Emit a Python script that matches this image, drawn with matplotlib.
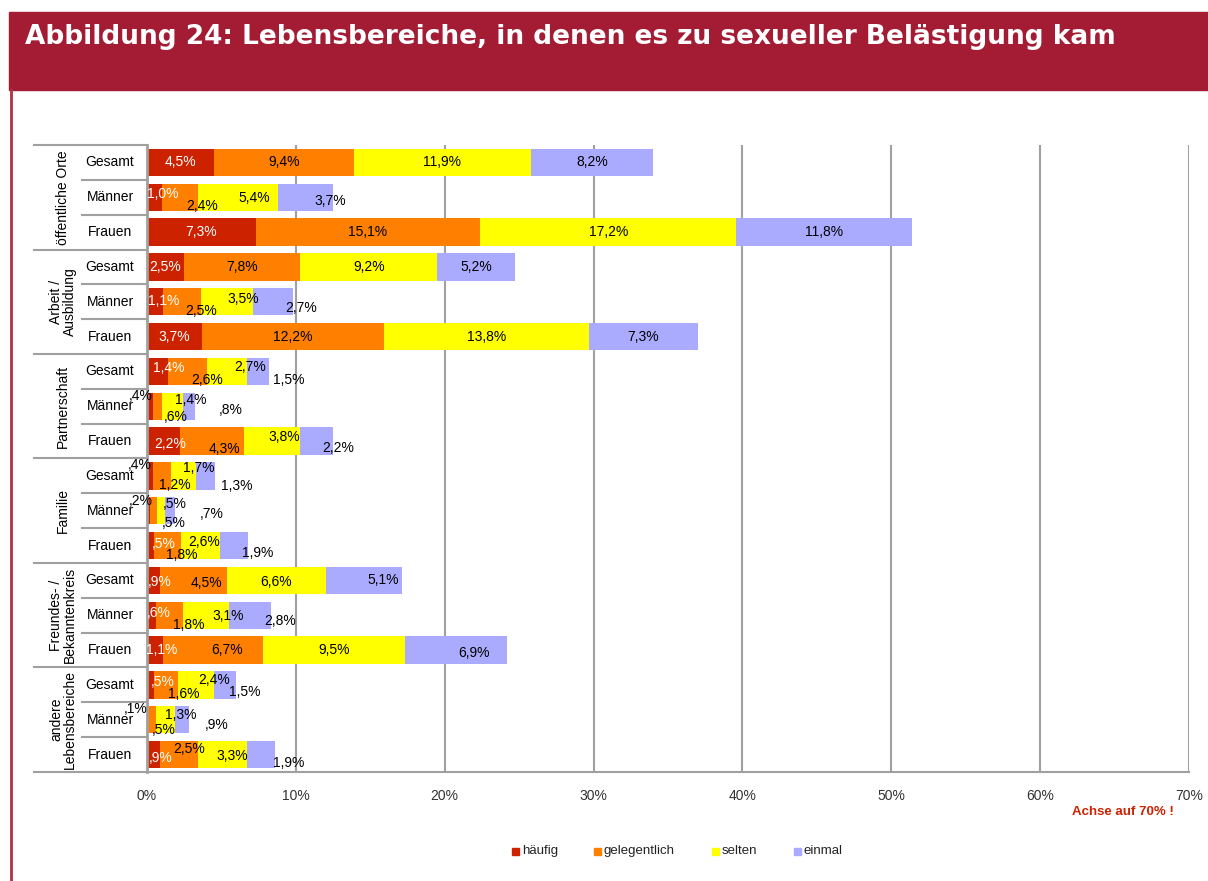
import matplotlib
matplotlib.use("Agg")
import matplotlib.pyplot as plt
from matplotlib.patches import Rectangle
from matplotlib.lines import Line2D

plt.rcParams['font.family'] = ['Liberation Sans', 'DejaVu Sans']

# data (percent)
groups = ["öffentliche Orte", "Arbeit /\nAusbildung", "Partnerschaft", "Familie",
          "Freundes- /\nBekanntenkreis", "andere\nLebensbereiche"]
subgroups = ["Gesamt", "Männer", "Frauen"]
series = ["häufig", "gelegentlich", "selten", "einmal"]

haeufig = [4.5, 1.0, 7.3, 2.5, 1.1, 3.7, 1.4, 0.4, 2.2, 0.4, 0.2, 0.5, 0.9, 0.6, 1.1, 0.5, 0.1, 0.9]
gelegentlich = [9.4, 2.4, 15.1, 7.8, 2.5, 12.2, 2.6, 0.6, 4.3, 1.2, 0.5, 1.8, 4.5, 1.8, 6.7, 1.6, 0.5, 2.5]
selten = [11.9, 5.4, 17.2, 9.2, 3.5, 13.8, 2.7, 1.4, 3.8, 1.7, 0.5, 2.6, 6.6, 3.1, 9.5, 2.4, 1.3, 3.3]
einmal = [8.2, 3.7, 11.8, 5.2, 2.7, 7.3, 1.5, 0.8, 2.2, 1.3, 0.7, 1.9, 5.1, 2.8, 6.9, 1.5, 0.9, 1.9]

xticks = [0, 10, 20, 30, 40, 50, 60, 70]

colors = ["#CC2200", "#FF7F00", "#FFFF00", "#AAAAFF"]
grid_col = "#A0A0A0"
crimson = "#A31C33"

# manual label nudges (pixels, dy positive = down), like the dragged excel labels
nudge = {
    1: [(8, -3), (22, 9), (16, 1), (25, 4)],
    4: [(9, -1), (19, 9), (17, -3), (28, 6)],
    6: [(11, -3), (20, 9), (23, -4), (31, 9)],
    7: [(-9, -10), (18, 11), (18, -6), (42, 4)],
    8: [(7, 3), (13, 8), (12, -4), (21, 7)],
    9: [(-10, -11), (13, 9), (15, -8), (31, 10)],
    10: [(-8, -10), (20, 12), (14, -7), (42, 3)],
    11: [(13, -2), (14, 9), (4, -4), (24, 7)],
    12: [(6, 2), (13, 3), (0, 2), (20, 0)],
    13: [(7, -2), (19, 10), (22, 1), (30, 6)],
    14: [(7, 0), (14, 0), (0, 0), (18, 3)],
    15: [(12, -3), (17, 9), (18, -5), (20, 7)],
    16: [(-12, -11), (12, 10), (15, -5), (35, 5)],
    17: [(7, 3), (10, -6), (10, 1), (28, 8)],
}


def fmt(v):
    s = f"{v:.1f}".replace(".", ",")
    if s.startswith("0"):
        s = s[1:]
    return s + "%"


W, H = 1208, 881
fig = plt.figure(figsize=(W / 100, H / 100), dpi=100)

# header band + left border
fig.add_artist(Rectangle((9 / W, 1 - 90 / H), 1 - 9 / W, 78 / H,
                         transform=fig.transFigure, color=crimson, zorder=0))
fig.add_artist(Line2D([10.5 / W, 10.5 / W], [0, 1 - 90 / H], transform=fig.transFigure,
                      color="#B03040", lw=2))
fig.text(25 / W, 1 - 37 / H, "Abbildung 24: Lebensbereiche, in denen es zu sexueller Belästigung kam",
         color="white", fontsize=19, fontweight="bold", family="DejaVu Sans",
         va="center", ha="left")

x0, x1, ytop, ybot = 147, 1189, 145, 772
ax = fig.add_axes([x0 / W, 1 - ybot / H, (x1 - x0) / W, (ybot - ytop) / H])

n = len(haeufig)
ypos = [i + 0.5 for i in range(n)]
data = [haeufig, gelegentlich, selten, einmal]
left = [0.0] * n
for k, vals in enumerate(data):
    ax.barh(ypos, vals, left=left, height=0.78, color=colors[k], zorder=3, label=series[k])
    for i, v in enumerate(vals):
        dx, dy = nudge.get(i, [(0, 0)] * 4)[k]
        txt_col = "black"
        if k == 0 and dx >= 0:
            txt_col = "white"
        ax.annotate(fmt(v), (left[i] + v / 2, ypos[i]), xytext=(dx, -dy),
                    textcoords="offset pixels", ha="center", va="center",
                    fontsize=10, color=txt_col, zorder=5)
    left = [a + b for a, b in zip(left, vals)]

ax.set_xlim(0, 70)
ax.set_ylim(n, 0)
ax.set_yticks([])
ax.set_xticks(xticks)
ax.set_xticklabels([f"{t}%" for t in xticks], fontsize=10, color="#333333")
ax.tick_params(axis="x", length=0, pad=12)
for s in ["top", "right", "bottom"]:
    ax.spines[s].set_visible(False)
ax.spines["left"].set_color(grid_col)
ax.spines["left"].set_linewidth(2)
ax.spines["left"].set_zorder(4)
for t in xticks[1:]:
    ax.axvline(t, color=grid_col, lw=1.5, zorder=1)

# category area left of the axis (data units, pixel-based)
pxu = (x1 - x0) / 70.0
xg = (34 - x0) / pxu
xs = (82 - x0) / pxu
ax.plot([xg, 70], [n, n], color=grid_col, lw=1.5, clip_on=False, zorder=4)
for g in range(len(groups)):
    ax.plot([xg, 0], [3 * g, 3 * g], color=grid_col, lw=1.5, clip_on=False)
    for j in (1, 2):
        ax.plot([xs, 0], [3 * g + j, 3 * g + j], color=grid_col, lw=1.5, clip_on=False)
    ax.text((63 - x0) / pxu, 3 * g + 1.5, groups[g], rotation=90, ha="center", va="center",
            fontsize=10, linespacing=1.0)
    for j, sg in enumerate(subgroups):
        ax.text((110 - x0) / pxu, 3 * g + j + 0.5, sg, ha="center", va="center", fontsize=10)

fig.text(1123 / W, 1 - 812 / H, "Achse auf 70% !", color="#CC2200", fontsize=9.5,
         fontweight="bold", ha="center", va="center")

# legend
leg_x = [512, 594, 712, 794]
for k, name in enumerate(series):
    fig.add_artist(Rectangle((leg_x[k] / W, 1 - 855 / H), 7 / W, 7 / H,
                             transform=fig.transFigure, color=colors[k]))
    fig.text((leg_x[k] + 10) / W, 1 - 851 / H, name, fontsize=9.5, color="#222222",
             ha="left", va="center")

fig.savefig("out.png", dpi=100)
